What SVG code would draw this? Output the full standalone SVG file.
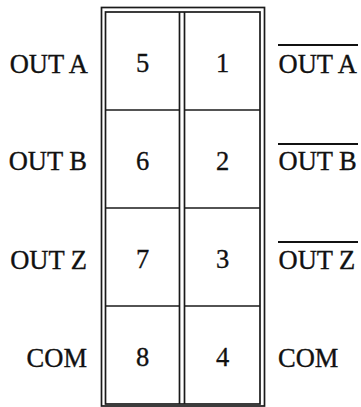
<svg xmlns="http://www.w3.org/2000/svg" width="361" height="407" viewBox="0 0 361 407">
<style>
.ln{fill:none;stroke:#1a1a1a;stroke-width:1.7}
.t{font-family:"Liberation Serif","Times New Roman",serif;font-size:26.5px;fill:#111;stroke:#111;stroke-width:0.35}
.n{font-family:"Liberation Serif","Times New Roman",serif;font-size:26.5px;fill:#111;stroke:#111;stroke-width:0.35;text-anchor:middle}
.l{text-anchor:end}
.ov{stroke:#111;stroke-width:1.8}
</style>
<rect width="361" height="407" fill="#fff"/>
<g id="frame">
<rect class="ln" x="101.5" y="7.5" width="163" height="398.5"/>
<rect class="ln" x="105.5" y="12" width="154.5" height="392"/>
<line class="ln" x1="179.5" y1="12" x2="179.5" y2="404"/>
<line class="ln" x1="184.5" y1="12" x2="184.5" y2="404"/>
</g>
<g id="dividers">
<line class="ln" x1="105.5" y1="110" x2="179.5" y2="110"/>
<line class="ln" x1="184.5" y1="110" x2="260" y2="110"/>
<line class="ln" x1="105.5" y1="208" x2="179.5" y2="208"/>
<line class="ln" x1="184.5" y1="208" x2="260" y2="208"/>
<line class="ln" x1="105.5" y1="306" x2="179.5" y2="306"/>
<line class="ln" x1="184.5" y1="306" x2="260" y2="306"/>
</g>
<g id="pin5"><text class="n" x="142.5" y="72">5</text></g>
<g id="pin1"><text class="n" x="222.5" y="72">1</text></g>
<g id="pin6"><text class="n" x="142.5" y="169.5">6</text></g>
<g id="pin2"><text class="n" x="222.5" y="169.5">2</text></g>
<g id="pin7"><text class="n" x="142.5" y="268">7</text></g>
<g id="pin3"><text class="n" x="222.5" y="268">3</text></g>
<g id="pin8"><text class="n" x="142.5" y="366">8</text></g>
<g id="pin4"><text class="n" x="222.5" y="366">4</text></g>
<g id="label-outa"><text class="t l" x="88" y="72.5">OUT A</text></g>
<g id="label-outb"><text class="t l" x="87" y="169.5">OUT B</text></g>
<g id="label-outz"><text class="t l" x="87" y="269">OUT Z</text></g>
<g id="label-com-left"><text class="t l" x="87" y="366.5">COM</text></g>
<g id="label-outa-n"><line class="ov" x1="278" y1="45" x2="358" y2="45"/><text class="t" x="278.5" y="72.5">OUT A</text></g>
<g id="label-outb-n"><line class="ov" x1="278" y1="144" x2="358" y2="144"/><text class="t" x="278.5" y="170">OUT B</text></g>
<g id="label-outz-n"><line class="ov" x1="278" y1="242" x2="358" y2="242"/><text class="t" x="278.5" y="269">OUT Z</text></g>
<g id="label-com-right"><text class="t" x="278" y="366.5">COM</text></g>
</svg>
